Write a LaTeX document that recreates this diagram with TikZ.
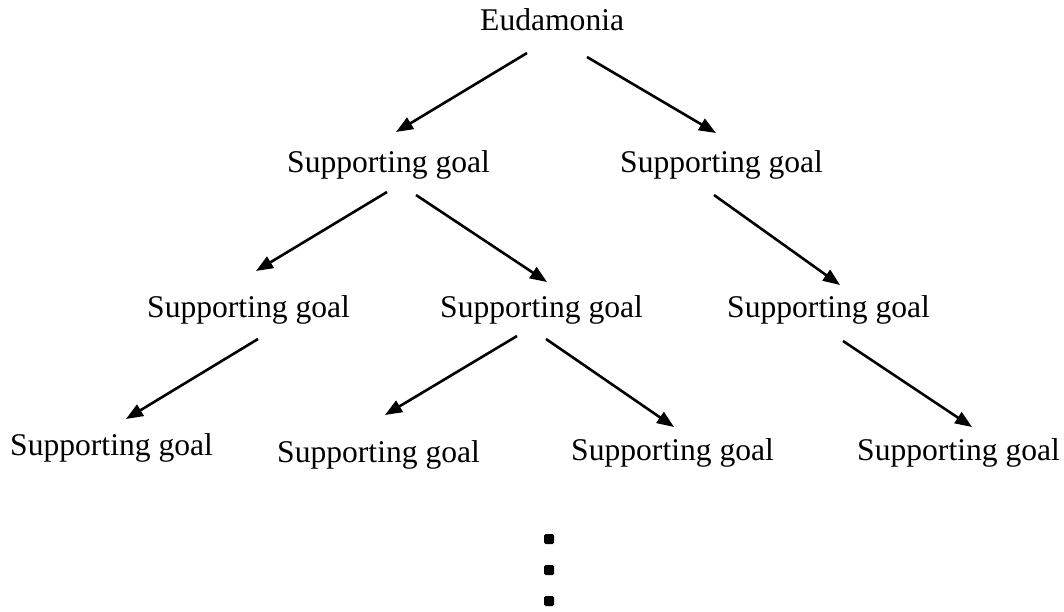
\documentclass[tikz,border=0pt]{standalone}
\usepackage{fontspec}
\setmainfont{Liberation Serif}
\usetikzlibrary{arrows.meta}
\begin{document}
\begin{tikzpicture}[x=1pt,y=-1pt,
  lbl/.style={anchor=base west,inner sep=0pt,font=\fontsize{31.6}{38}\selectfont},
  arr/.style={line width=2.6pt,-{Triangle[length=17pt,width=13pt]}},
  dot/.style={fill=black,rounded corners=1.5pt}]
\useasboundingbox (0,0) rectangle (1064,612);
\node[lbl] (e) at (480,31) {Eudamonia};
\node[lbl] (g1a) at (287,173) {Supporting goal};
\node[lbl] (g1b) at (620,173) {Supporting goal};
\node[lbl] (g2a) at (147,317) {Supporting goal};
\node[lbl] (g2b) at (440,317) {Supporting goal};
\node[lbl] (g2c) at (727,317) {Supporting goal};
\node[lbl] (g3a) at (10,455) {Supporting goal};
\node[lbl] (g3b) at (277,462) {Supporting goal};
\node[lbl] (g3c) at (571,460) {Supporting goal};
\node[lbl] (g3d) at (857,460) {Supporting goal};
% connector ends
\coordinate (a1s) at (527,53);  \coordinate (a1e) at (396,132);
\coordinate (a2s) at (587,57);  \coordinate (a2e) at (716,133);
\coordinate (a3s) at (387,192); \coordinate (a3e) at (256,271);
\coordinate (a4s) at (416,195); \coordinate (a4e) at (547,282);
\coordinate (a5s) at (714,195); \coordinate (a5e) at (840,285);
\coordinate (a6s) at (258,339); \coordinate (a6e) at (126,419);
\coordinate (a7s) at (517,336); \coordinate (a7e) at (385,415);
\coordinate (a8s) at (546,339); \coordinate (a8e) at (674,427);
\coordinate (a9s) at (843,341); \coordinate (a9e) at (972,427);
\draw[arr] (a1s) -- (a1e);
\draw[arr] (a2s) -- (a2e);
\draw[arr] (a3s) -- (a3e);
\draw[arr] (a4s) -- (a4e);
\draw[arr] (a5s) -- (a5e);
\draw[arr] (a6s) -- (a6e);
\draw[arr] (a7s) -- (a7e);
\draw[arr] (a8s) -- (a8e);
\draw[arr] (a9s) -- (a9e);
\fill[dot] (544,534) rectangle (554,544);
\fill[dot] (544,565) rectangle (554,575);
\fill[dot] (544,596) rectangle (554,606);
\end{tikzpicture}
\end{document}
